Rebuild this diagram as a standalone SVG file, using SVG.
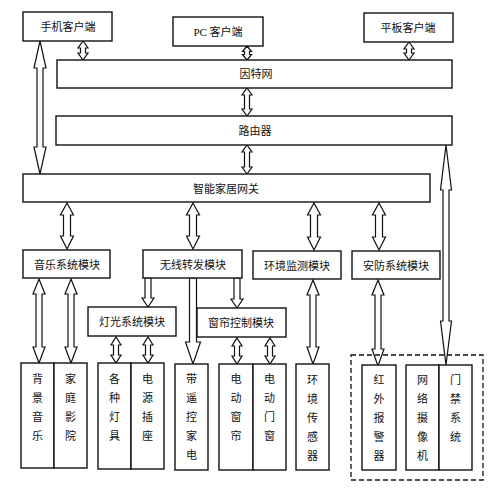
<svg xmlns="http://www.w3.org/2000/svg" width="502" height="500" viewBox="0 0 502 500">
<style>
.b{fill:#fff;stroke:#111;stroke-width:1.4}
.a{fill:#fff;stroke:#111;stroke-width:1.2;stroke-linejoin:miter}
.t{font-family:"Liberation Serif","Noto Sans CJK SC",serif;font-size:11px;fill:#111;text-anchor:middle}
.d{fill:none;stroke:#111;stroke-width:1.3;stroke-dasharray:5,3}
</style>
<rect width="502" height="500" fill="#fff"/>
<g id="connectors">
<path class="a" d="M83,41 L88,48 L85.5,48 L85.5,53 L88,53 L83,60 L78,53 L80.5,53 L80.5,48 L78,48 Z"/>
<path class="a" d="M247,46 L251.5,51.5 L249.5,51.5 L249.5,54.5 L251.5,54.5 L247,60 L242.5,54.5 L244.5,54.5 L244.5,51.5 L242.5,51.5 Z"/>
<path class="a" d="M409,42 L414,49 L411.5,49 L411.5,53 L414,53 L409,60 L404,53 L406.5,53 L406.5,49 L404,49 Z"/>
<path class="a" d="M247,88 L252,95 L249.5,95 L249.5,109 L252,109 L247,116 L242,109 L244.5,109 L244.5,95 L242,95 Z"/>
<path class="a" d="M247,145 L252,152 L249.5,152 L249.5,167 L252,167 L247,174 L242,167 L244.5,167 L244.5,152 L242,152 Z"/>
<path class="a" d="M40,41 L46,68 L43,68 L43,147 L46,147 L40,174 L34,147 L37,147 L37,68 L34,68 Z"/>
<path class="a" d="M446,145 L451.5,190 L449,190 L449,321 L451.5,321 L446,365 L440.5,321 L443,321 L443,190 L440.5,190 Z"/>
<path class="a" d="M67,203 L73.5,215 L70.5,215 L70.5,236 L73.5,236 L67,249 L60.5,236 L63.5,236 L63.5,215 L60.5,215 Z"/>
<path class="a" d="M193,203 L199.5,215 L196.5,215 L196.5,236 L199.5,236 L193,249 L186.5,236 L189.5,236 L189.5,215 L186.5,215 Z"/>
<path class="a" d="M314,203 L320.5,215 L317.5,215 L317.5,237 L320.5,237 L314,250 L307.5,237 L310.5,237 L310.5,215 L307.5,215 Z"/>
<path class="a" d="M379,203 L385.5,215 L382.5,215 L382.5,237 L385.5,237 L379,250 L372.5,237 L375.5,237 L375.5,215 L372.5,215 Z"/>
<path class="a" d="M39,279 L45,294 L42,294 L42,347 L45,347 L39,363 L33,347 L36,347 L36,294 L33,294 Z"/>
<path class="a" d="M71,279 L77,294 L74,294 L74,347 L77,347 L71,363 L65,347 L68,347 L68,294 L65,294 Z"/>
<path class="a" d="M313,280 L319,295 L316,295 L316,347 L319,347 L313,364 L307,347 L310,347 L310,295 L307,295 Z"/>
<path class="a" d="M378,280 L384,295 L381,295 L381,349 L384,349 L378,366 L372,349 L375,349 L375,295 L372,295 Z"/>
<path class="a" d="M145,278 L145,298 L142,298 L148,307 L154,298 L151,298 L151,278 Z"/>
<path class="a" d="M234,278 L234,299 L231,299 L237,308 L243,299 L240,299 L240,278 Z"/>
<path class="a" d="M189.5,278 L189.5,342 L185.5,342 L193,364 L200.5,342 L196.5,342 L196.5,278 Z"/>
<path class="a" d="M116,337 L121,345 L118.5,345 L118.5,355 L121,355 L116,363 L111,355 L113.5,355 L113.5,345 L111,345 Z"/>
<path class="a" d="M148,337 L153,345 L150.5,345 L150.5,355 L153,355 L148,363 L143,355 L145.5,355 L145.5,345 L143,345 Z"/>
<path class="a" d="M237,338 L242,346 L239.5,346 L239.5,356 L242,356 L237,364 L232,356 L234.5,356 L234.5,346 L232,346 Z"/>
<path class="a" d="M270,338 L275,346 L272.5,346 L272.5,356 L275,356 L270,364 L265,356 L267.5,356 L267.5,346 L265,346 Z"/>
</g>
<rect class="d" x="351" y="355" width="132" height="125"/>
<g id="n-phone"><rect class="b" x="23" y="12" width="89" height="29"/><text class="t" x="68" y="31">手机客户端</text></g>
<g id="n-pc"><rect class="b" x="173" y="17" width="90" height="29"/><text class="t" x="218" y="36">PC 客户端</text></g>
<g id="n-pad"><rect class="b" x="364" y="13" width="89" height="29"/><text class="t" x="408" y="32">平板客户端</text></g>
<g id="n-internet"><rect class="b" x="57" y="60" width="395" height="28"/><text class="t" x="256" y="78">因特网</text></g>
<g id="n-router"><rect class="b" x="56" y="116" width="396" height="29"/><text class="t" x="255" y="135">路由器</text></g>
<g id="n-gateway"><rect class="b" x="23" y="174" width="407" height="28"/><text class="t" x="226" y="193">智能家居网关</text></g>
<g id="n-music"><rect class="b" x="23" y="250" width="87" height="28"/><text class="t" x="67" y="269">音乐系统模块</text></g>
<g id="n-wireless"><rect class="b" x="143" y="250" width="99" height="28"/><text class="t" x="193" y="269">无线转发模块</text></g>
<g id="n-env"><rect class="b" x="253" y="251" width="88" height="28"/><text class="t" x="297" y="270">环境监测模块</text></g>
<g id="n-security"><rect class="b" x="352" y="251" width="88" height="28"/><text class="t" x="396" y="270">安防系统模块</text></g>
<g id="n-light"><rect class="b" x="88" y="307" width="88" height="29"/><text class="t" x="132" y="326">灯光系统模块</text></g>
<g id="n-curtain"><rect class="b" x="197" y="308" width="89" height="29"/><text class="t" x="241" y="327">窗帘控制模块</text></g>
<g id="n-bgm"><rect class="b" x="21" y="363" width="33" height="105"/><text class="t" x="37.5" y="383"><tspan x="37.5">背</tspan><tspan x="37.5" dy="19">景</tspan><tspan x="37.5" dy="19">音</tspan><tspan x="37.5" dy="19">乐</tspan></text></g>
<g id="n-theater"><rect class="b" x="54" y="363" width="33" height="105"/><text class="t" x="70.5" y="383"><tspan x="70.5">家</tspan><tspan x="70.5" dy="19">庭</tspan><tspan x="70.5" dy="19">影</tspan><tspan x="70.5" dy="19">院</tspan></text></g>
<g id="n-lamps"><rect class="b" x="98" y="363" width="33" height="106"/><text class="t" x="114.5" y="383"><tspan x="114.5">各</tspan><tspan x="114.5" dy="19">种</tspan><tspan x="114.5" dy="19">灯</tspan><tspan x="114.5" dy="19">具</tspan></text></g>
<g id="n-socket"><rect class="b" x="131" y="363" width="33" height="106"/><text class="t" x="147.5" y="383"><tspan x="147.5">电</tspan><tspan x="147.5" dy="19">源</tspan><tspan x="147.5" dy="19">插</tspan><tspan x="147.5" dy="19">座</tspan></text></g>
<g id="n-appliance"><rect class="b" x="175" y="364" width="33" height="106"/><text class="t" x="191.5" y="383"><tspan x="191.5">带</tspan><tspan x="191.5" dy="19">遥</tspan><tspan x="191.5" dy="19">控</tspan><tspan x="191.5" dy="19">家</tspan><tspan x="191.5" dy="19">电</tspan></text></g>
<g id="n-ecurtain"><rect class="b" x="219" y="364" width="34" height="106"/><text class="t" x="236" y="383"><tspan x="236">电</tspan><tspan x="236" dy="19">动</tspan><tspan x="236" dy="19">窗</tspan><tspan x="236" dy="19">帘</tspan></text></g>
<g id="n-edoor"><rect class="b" x="253" y="364" width="33" height="106"/><text class="t" x="269.5" y="383"><tspan x="269.5">电</tspan><tspan x="269.5" dy="19">动</tspan><tspan x="269.5" dy="19">门</tspan><tspan x="269.5" dy="19">窗</tspan></text></g>
<g id="n-sensor"><rect class="b" x="296" y="364" width="33" height="106"/><text class="t" x="312.5" y="384"><tspan x="312.5">环</tspan><tspan x="312.5" dy="19">境</tspan><tspan x="312.5" dy="19">传</tspan><tspan x="312.5" dy="19">感</tspan><tspan x="312.5" dy="19">器</tspan></text></g>
<g id="n-infrared"><rect class="b" x="362" y="365" width="34" height="105"/><text class="t" x="379" y="384"><tspan x="379">红</tspan><tspan x="379" dy="19">外</tspan><tspan x="379" dy="19">报</tspan><tspan x="379" dy="19">警</tspan><tspan x="379" dy="19">器</tspan></text></g>
<g id="n-camera"><rect class="b" x="406" y="365" width="33" height="105"/><text class="t" x="422.5" y="384"><tspan x="422.5">网</tspan><tspan x="422.5" dy="19">络</tspan><tspan x="422.5" dy="19">摄</tspan><tspan x="422.5" dy="19">像</tspan><tspan x="422.5" dy="19">机</tspan></text></g>
<g id="n-access"><rect class="b" x="439" y="365" width="33" height="105"/><text class="t" x="455.5" y="384"><tspan x="455.5">门</tspan><tspan x="455.5" dy="19">禁</tspan><tspan x="455.5" dy="19">系</tspan><tspan x="455.5" dy="19">统</tspan></text></g>
</svg>
